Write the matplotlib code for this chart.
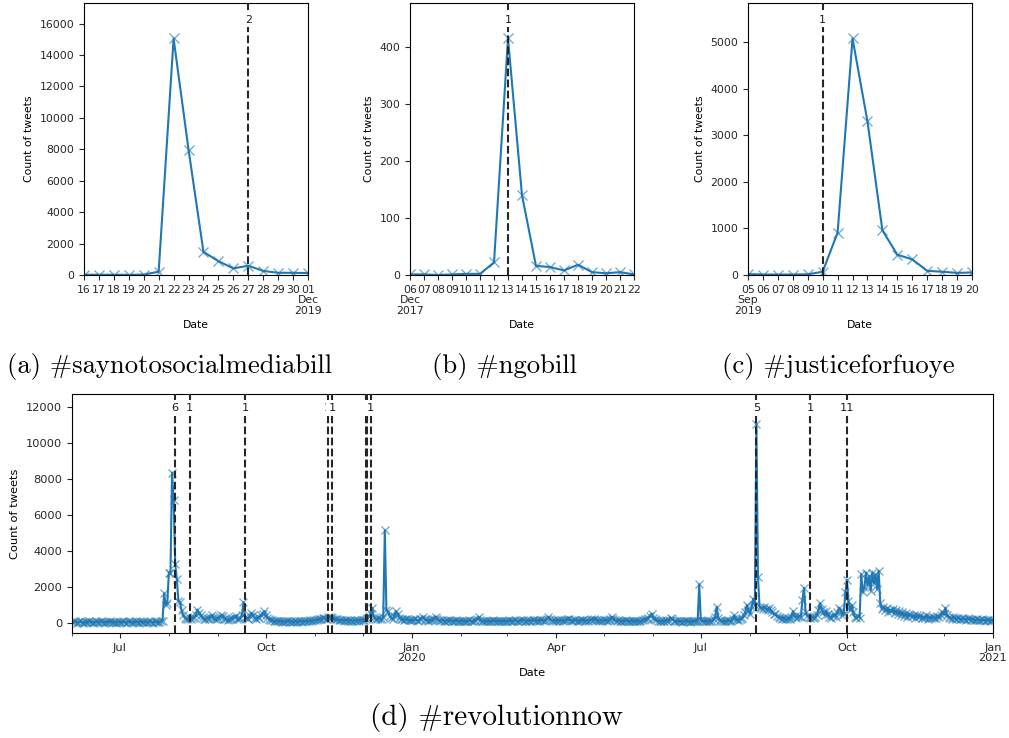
import matplotlib
matplotlib.use("Agg")
import matplotlib.pyplot as plt
import numpy as np
import pandas as pd

W, H = 1009, 738
BLUE = "#1f77b4"
VLINE = "0.15"

# ---------------- (a) #saynotosocialmediabill ----------------
a_start = "2019-11-16"
a_values = [20, 15, 15, 10, 25, 210, 15050, 7980, 1470, 880, 420, 590, 260, 140, 140, 120]
a_ticklabels = ["16", "17", "18", "19", "20", "21", "22", "23", "24", "25", "26",
                "27", "28", "29", "30", "01\nDec\n2019"]
a_events = ["2019-11-27"]
a_event_labels = ["2"]

# ---------------- (b) #ngobill ----------------
b_start = "2017-12-06"
b_values = [1, 1, 0, 1, 2, 2, 22, 415, 140, 16, 14, 8, 18, 5, 3, 5, 1]
b_ticklabels = ["06\nDec\n2017", "07", "08", "09", "10", "11", "12", "13", "14",
                "15", "16", "17", "18", "19", "20", "21", "22"]
b_events = ["2017-12-13"]
b_event_labels = ["1"]

# ---------------- (c) #justiceforfuoye ----------------
c_start = "2019-09-05"
c_values = [20, 10, 10, 10, 15, 70, 910, 5080, 3300, 960, 435, 335, 90, 70, 45, 55]
c_ticklabels = ["05\nSep\n2019", "06", "07", "08", "09", "10", "11", "12", "13",
                "14", "15", "16", "17", "18", "19", "20"]
c_events = ["2019-09-10"]
c_event_labels = ["1"]

# ---------------- (d) #revolutionnow : daily counts ----------------
d_start = "2019-06-01"
jun19 = [60, 40, 90, 30, 70, 110, 50, 20, 80, 60, 40, 100, 70, 30, 50, 90, 60, 40, 120, 70,
         30, 60, 80, 50, 100, 40, 70, 60, 30, 80]
jul19 = [70, 40, 90, 60, 30, 80, 110, 50, 70, 40, 90, 60, 30, 100, 70, 50, 80, 40, 60, 120,
         70, 30, 90, 60, 50, 80, 100, 130, 1650, 1000, 1100]
aug19 = [2800, 2750, 8350, 6850, 3300, 2450, 1250, 1150, 700, 450, 300, 250, 200, 280, 220,
         300, 350, 450, 750, 550, 450, 300, 250, 200, 300, 250, 350, 450, 300, 200, 250]
sep19 = [300, 350, 450, 400, 250, 200, 150, 200, 250, 300, 350, 400, 250, 200, 300, 450,
         1150, 350, 300, 250, 400, 550, 450, 300, 250, 350, 300, 450, 500, 650]
oct19 = [450, 300, 250, 180, 150, 120, 100, 140, 90, 120, 80, 110, 60, 100, 130, 80, 110,
         70, 90, 120, 60, 100, 140, 80, 110, 90, 130, 100, 150, 120, 160]
nov19 = [150, 180, 200, 220, 250, 280, 300, 250, 320, 280, 350, 300, 250, 220, 200, 150,
         180, 160, 140, 170, 150, 130, 160, 140, 120, 150, 130, 160, 140, 170]
dec19 = [150, 180, 250, 300, 400, 500, 850, 350, 250, 200, 300, 250, 200, 350, 5150, 700,
         650, 400, 300, 250, 400, 650, 500, 300, 250, 200, 180, 220, 200, 150, 180]
jan20 = [180, 150, 200, 170, 140, 220, 250, 350, 200, 160, 140, 180, 150, 200, 250, 350,
         200, 150, 130, 170, 140, 120, 160, 130, 150, 110, 140, 120, 150, 130, 100]
feb20 = [120, 140, 100, 130, 110, 150, 120, 90, 130, 160, 200, 350, 180, 120, 100, 140, 110,
         130, 90, 120, 150, 110, 130, 100, 140, 120, 90, 130, 110]
mar20 = [120, 150, 110, 140, 130, 160, 120, 100, 150, 130, 170, 140, 120, 160, 110, 140,
         180, 150, 120, 160, 140, 190, 150, 130, 170, 220, 350, 200, 150, 130, 160]
apr20 = [140, 170, 130, 160, 120, 150, 180, 250, 200, 160, 130, 150, 170, 140, 120, 160,
         190, 150, 130, 170, 140, 160, 200, 180, 250, 190, 150, 130, 160, 140]
may20 = [150, 170, 140, 180, 220, 350, 200, 160, 130, 150, 120, 140, 110, 130, 150, 120,
         100, 140, 110, 130, 90, 120, 140, 110, 150, 180, 220, 250, 300, 400, 520]
jun20 = [300, 200, 150, 120, 140, 110, 130, 100, 150, 120, 180, 300, 200, 140, 110, 90, 120,
         100, 80, 110, 90, 130, 100, 80, 110, 90, 120, 100, 130, 2150]
jul20 = [150, 120, 100, 130, 90, 110, 140, 120, 200, 350, 900, 300, 150, 120, 100, 130, 110,
         150, 120, 100, 200, 430, 200, 150, 180, 250, 300, 450, 600, 1000, 700]
aug20 = [500, 900, 1350, 1000, 11050, 2550, 900, 850, 800, 900, 800, 750, 850, 700, 600, 500,
         520, 400, 350, 300, 250, 300, 250, 200, 300, 250, 350, 650, 400, 300, 350]
sep20 = [400, 350, 1300, 1950, 600, 400, 350, 300, 350, 280, 320, 450, 700, 1100, 800, 600,
         450, 650, 500, 350, 300, 400, 500, 350, 600, 850, 700, 450, 500, 1700]
oct20 = [2400, 1200, 700, 1000, 600, 350, 300, 400, 300, 2700, 1700, 2000, 2800, 2100, 2600,
         1800, 2800, 2200, 2700, 1900, 2900, 1100, 800, 900, 700, 850, 600, 750, 650, 800, 550]
nov20 = [700, 500, 650, 450, 600, 400, 550, 350, 500, 450, 380, 420, 300, 450, 350, 400, 280,
         350, 300, 420, 250, 330, 280, 350, 300, 260, 400, 320, 450, 600]
dec20 = [500, 850, 450, 350, 300, 250, 330, 280, 220, 300, 250, 200, 280, 230, 180, 260, 210,
         170, 240, 190, 160, 220, 180, 150, 200, 170, 140, 190, 160, 130, 170]
jan21 = [150]
d_events = ["2019-08-05", "2019-08-14", "2019-09-18", "2019-11-09", "2019-11-12",
            "2019-12-03", "2019-12-04", "2019-12-06", "2020-08-05", "2020-09-08", "2020-10-01"]
d_event_labels = ["6", "1", "1", "1", "1", "1", "1", "1", "5", "1", "11"]
d_major = ["2019-07-01", "2019-10-01", "2020-01-01", "2020-04-01", "2020-07-01",
           "2020-10-01", "2021-01-01"]
d_major_labels = ["Jul", "Oct", "Jan\n2020", "Apr", "Jul", "Oct", "Jan\n2021"]

captions = ["(a) #saynotosocialmediabill", "(b) #ngobill",
            "(c) #justiceforfuoye", "(d) #revolutionnow"]


def axes_px(left, top, right, bottom):
    return fig.add_axes([left / W, 1 - bottom / H, (right - left) / W, (bottom - top) / H])


def draw_series(ax, dates, values, ms):
    ax.plot(dates, values, color=BLUE, lw=1.5, zorder=2)
    ax.plot(dates, values, ls="none", color=BLUE, marker="x", ms=ms, mew=1.0,
            alpha=0.6, zorder=2)


def draw_events(ax, events, labels, ymax, fs):
    for ev, lab in zip(events, labels):
        t = pd.Timestamp(ev)
        ax.axvline(t, color=VLINE, ls="--", lw=1.5, zorder=3)
        ax.text(t, ymax * 1.08, lab, ha="center", va="center", fontsize=fs, color="0.1",
                zorder=4, bbox=dict(boxstyle="square,pad=0.25", fc="white", ec="none"))


def small_panel(ax, start, values, ticklabels, events, labels):
    fs = 7.8
    dates = pd.date_range(start, periods=len(values), freq="D")
    draw_series(ax, dates, values, 7)
    ymax = max(values)
    ax.set_ylim(0, ymax * 1.15)
    ax.set_xlim(dates[0], dates[-1])
    ax.set_xticks(dates)
    ax.set_xticklabels(ticklabels, fontsize=fs, linespacing=1.05)
    ax.set_xticks([], minor=True)
    ax.tick_params(axis="y", labelsize=fs)
    ax.tick_params(axis="both", colors="0.15")
    ax.set_xlabel("Date", fontsize=fs, labelpad=3)
    ax.set_ylabel("Count of tweets", fontsize=fs)
    draw_events(ax, events, labels, ymax, fs)


fig = plt.figure(figsize=(W / 100, H / 100), dpi=100)

ax_a = axes_px(84, 3, 308, 275)
small_panel(ax_a, a_start, a_values, a_ticklabels, a_events, a_event_labels)
ax_b = axes_px(410, 3, 634, 275)
small_panel(ax_b, b_start, b_values, b_ticklabels, b_events, b_event_labels)
ax_c = axes_px(748, 3, 972, 275)
small_panel(ax_c, c_start, c_values, c_ticklabels, c_events, c_event_labels)

# bottom long panel
fs_d = 8.2
d_values = (jun19 + jul19 + aug19 + sep19 + oct19 + nov19 + dec19 + jan20 + feb20 + mar20
            + apr20 + may20 + jun20 + jul20 + aug20 + sep20 + oct20 + nov20 + dec20 + jan21)
d_dates = pd.date_range(d_start, periods=len(d_values), freq="D")
ax_d = axes_px(72, 394, 993, 633)
draw_series(ax_d, d_dates, d_values, 6)
d_max = max(d_values)
ax_d.set_xlim(d_dates[0], d_dates[-1])
ax_d.set_ylim(-0.05 * d_max, d_max * 1.15)
ax_d.set_xticks(pd.to_datetime(d_major))
ax_d.set_xticklabels(d_major_labels, fontsize=fs_d, linespacing=1.0)
ax_d.set_xticks(pd.date_range(d_start, d_dates[-1], freq="MS"), minor=True)
ax_d.tick_params(axis="y", labelsize=fs_d)
ax_d.tick_params(axis="both", which="both", colors="0.15")
ax_d.set_xlabel("Date", fontsize=fs_d, labelpad=4)
ax_d.set_ylabel("Count of tweets", fontsize=fs_d)
draw_events(ax_d, d_events, d_event_labels, d_max, fs_d)

# sub-captions in a Computer Modern face
cap_pos = [(170, 367, 19.2), (505, 367, 19.2), (838, 367, 19.2), (496, 717, 21.0)]
for cap, (cx, cy, cfs) in zip(captions, cap_pos):
    fig.text(cx / W, 1 - cy / H, cap, ha="center", va="center", fontsize=cfs,
             family=["cmr10", "DejaVu Serif"])

fig.savefig("out.png", dpi=100)
